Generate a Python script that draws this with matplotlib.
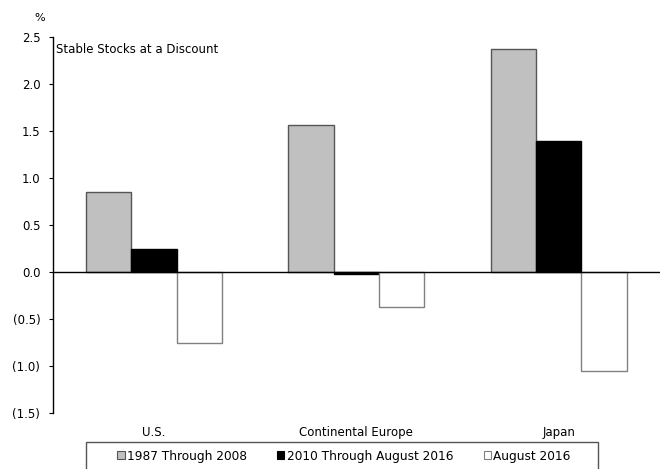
import matplotlib
matplotlib.use("Agg")
import matplotlib.pyplot as plt
from matplotlib.patches import Rectangle, Patch
import numpy as np

regions = ["U.S.", "Continental Europe", "Japan"]
series_names = ["1987 Through 2008", "2010 Through August 2016", "August 2016"]
long_run = [0.85, 1.56, 2.37]
recent = [0.25, -0.02, 1.39]
aug_2016 = [-0.76, -0.37, -1.05]
y_ticks = [2.5, 2.0, 1.5, 1.0, 0.5, 0.0, -0.5, -1.0, -1.5]

plt.rcParams["font.family"] = ["DejaVu Sans"]
fig = plt.figure(figsize=(6.6, 4.69), dpi=100)
ax = fig.add_axes([0.080, 0.1194, 0.920, 0.8017])

x = np.arange(len(regions))
w = 0.224
styles = [
    dict(facecolor="#c0c0c0", edgecolor="#555555"),
    dict(facecolor="#000000", edgecolor="#000000"),
    dict(facecolor="#ffffff", edgecolor="#808080"),
]
for i, vals in enumerate([long_run, recent, aug_2016]):
    ax.bar(x + (i - 1) * w, vals, width=w, linewidth=1.0, **styles[i], zorder=2)

ax.axhline(0, color="black", linewidth=1.0, zorder=3)
ax.set_xlim(-0.5, 2.5)
ax.set_ylim(-1.5, 2.5)

def fmt(v):
    return f"({abs(v):.1f})" if v < 0 else f"{v:.1f}"

ax.set_yticks(y_ticks)
ax.set_yticklabels([fmt(v) for v in y_ticks])
ax.set_xticks(x)
ax.set_xticklabels(regions)
ax.tick_params(axis="x", length=0, pad=9, labelsize=8.5)
ax.tick_params(axis="y", direction="out", length=3, width=0.8, pad=6, labelsize=8.5)
for s in ["top", "right", "bottom"]:
    ax.spines[s].set_visible(False)
ax.spines["left"].set_linewidth(1.0)

ax.text(0.006, 0.985, "Stable Stocks at a Discount", transform=ax.transAxes,
        fontsize=8.5, va="top", ha="left")
fig.text(40 / 660, 1 - 18 / 469, "%", fontsize=8, ha="center", va="center")

# legend frame and entries
fig.patches.append(Rectangle((86 / 660, -0.01), (598 - 86) / 660, 1 - 442 / 469 + 0.01,
                             transform=fig.transFigure, facecolor="white",
                             edgecolor="#555555", linewidth=1.0))
handles = [Patch(facecolor=s["facecolor"], edgecolor=s["edgecolor"], linewidth=0.8)
           for s in styles]
fig.legend(handles, series_names, ncol=3, loc="center",
           bbox_to_anchor=(344 / 660, 1 - 456 / 469), frameon=False,
           fontsize=8.7, handlelength=0.6, handleheight=0.6, handletextpad=0.2,
           columnspacing=2.5)

fig.savefig("out.png", dpi=100)
